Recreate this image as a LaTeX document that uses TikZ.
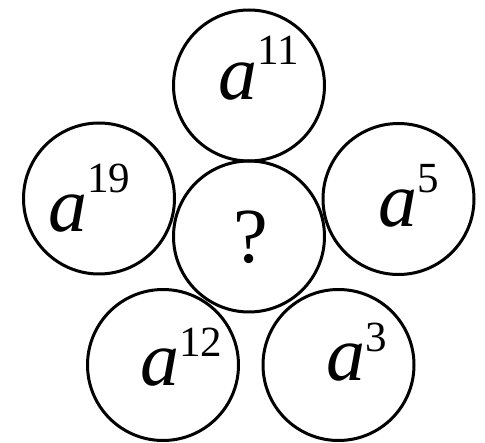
\documentclass[tikz,border=0pt]{standalone}
\usepackage{fontspec}
\setmainfont{Liberation Serif}
\newcommand{\supfont}{\fontsize{43}{43}\selectfont}
\newcommand{\apow}[2]{\textit{a}\raisebox{#1}{\supfont #2}}

\begin{document}
\begin{tikzpicture}[
  x=1pt, y=-1pt,
  ring/.style={circle, draw, line width=3pt, minimum size=151pt, inner sep=0pt},
  lab/.style={anchor=base west, inner sep=0pt, font=\fontsize{78}{78}\selectfont},
]
\useasboundingbox (0,0) rectangle (485,443);

% ---- circles ----
\node[ring] (top)   at (249,85.5)  {};
\node[ring] (mid)   at (249,236.5) {};
\node[ring] (left)  at (99,198.5)  {};
\node[ring] (right) at (398.5,199) {};
\node[ring] (botl)  at (163,365)   {};
\node[ring] (botr)  at (338.5,365) {};

% ---- labels ----
\node[lab] (ltop)   at (218,100) {\apow{35pt}{11}};
\node[lab] (lleft)  at (48,232)  {\apow{39pt}{19}};
\node[lab] (lright) at (378,227) {\apow{34pt}{5}};
\node[lab] (lbotl)  at (140,386) {\apow{29pt}{12}};
\node[lab] (lbotr)  at (326,381) {\apow{29pt}{3}};
\node[lab, anchor=base] (q) at (251,263) {?};

\end{tikzpicture}
\end{document}
